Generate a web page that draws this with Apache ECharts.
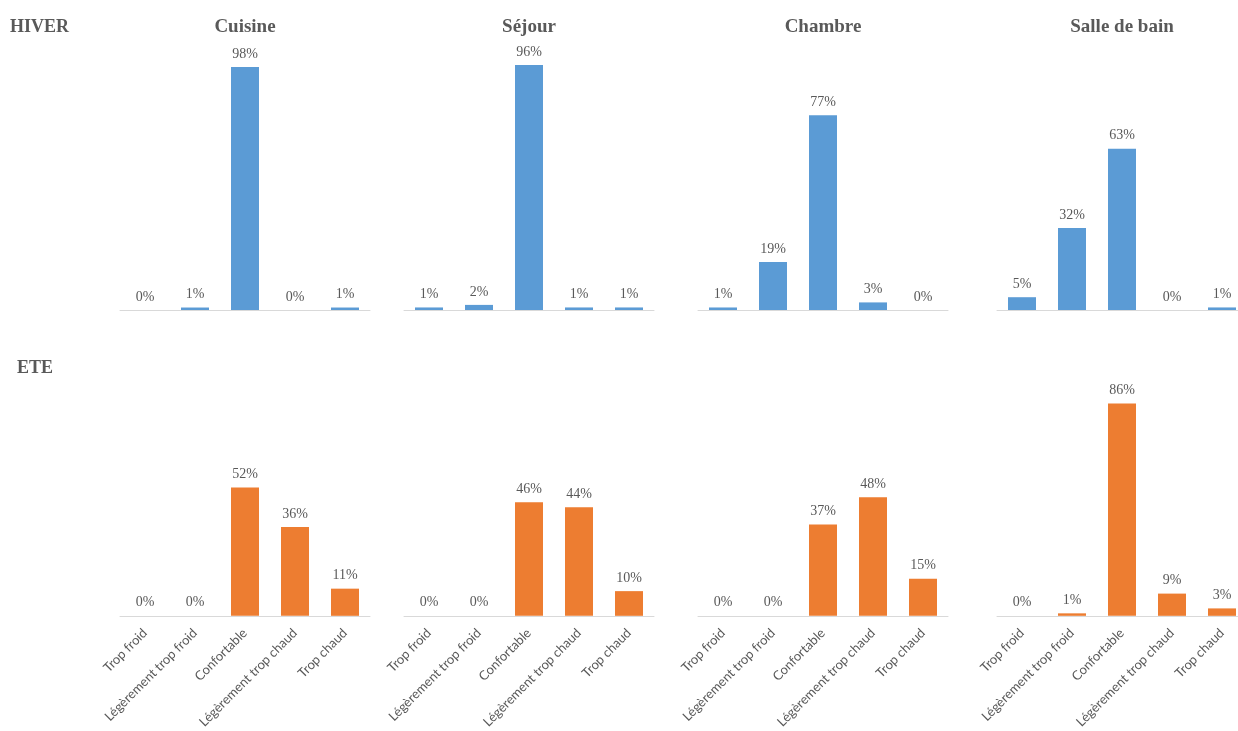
<!DOCTYPE html>
<html>
<head>
<meta charset="utf-8">
<script src="https://cdn.jsdelivr.net/npm/echarts@6/dist/echarts.min.js"></script>
<style>
  html, body { margin: 0; padding: 0; background: #ffffff; overflow: hidden; }
  /* drawing surface slightly wider than the page so the last panel keeps its full width */
  #chart { width: 1250px; height: 731px; }
</style>
</head>
<body>
<div id="chart"></div>
<script>
// Confort thermique ressenti par pièce, hiver et été (% des réponses)
const categories = ['Trop froid', 'Légèrement trop froid', 'Confortable', 'Légèrement trop chaud', 'Trop chaud'];
const rooms = ['Cuisine', 'Séjour', 'Chambre', 'Salle de bain'];
const seasons = ['HIVER', 'ETE'];

const hiverCuisine = [0, 1, 98, 0, 1];
const hiverSejour = [1, 2, 96, 1, 1];
const hiverChambre = [1, 19, 77, 3, 0];
const hiverSalleDeBain = [5, 32, 63, 0, 1];

const eteCuisine = [0, 0, 52, 36, 11];
const eteSejour = [0, 0, 46, 44, 10];
const eteChambre = [0, 0, 37, 48, 15];
const eteSalleDeBain = [0, 1, 86, 9, 3];

const hiverData = [hiverCuisine, hiverSejour, hiverChambre, hiverSalleDeBain];
const eteData = [eteCuisine, eteSejour, eteChambre, eteSalleDeBain];

// layout of the 4 x 2 panels
const panelLeft = [120, 404, 698, 997];
const panelWidth = 250;
const rowTop = [60, 369];
const rowHeight = [250, 248];
// per-panel value-axis ceiling (each small chart scaled on its own)
const hiverMax = [100.8, 98, 98.8, 97.7];
const eteMax = [100, 100, 100, 100];

const colors = ['#5b9bd5', '#ed7d31'];
const textGray = '#595959';

const grids = [], xAxes = [], yAxes = [], series = [], titles = [];

titles.push({ text: seasons[0], left: 10, top: 18, padding: 0,
  textStyle: { fontFamily: 'Liberation Serif', fontWeight: 'bold', fontSize: 18, color: textGray } });
titles.push({ text: seasons[1], left: 17, top: 359, padding: 0,
  textStyle: { fontFamily: 'Liberation Serif', fontWeight: 'bold', fontSize: 18, color: textGray } });

rooms.forEach((room, i) => {
  titles.push({
    text: room,
    left: panelLeft[i] + panelWidth / 2,
    top: 18,
    padding: 0,
    textAlign: 'center',
    textStyle: { fontFamily: 'Liberation Serif', fontWeight: 'bold', fontSize: 19, color: textGray }
  });
});

[hiverData, eteData].forEach((rowData, r) => {
  rowData.forEach((values, i) => {
    const idx = grids.length;
    grids.push({ left: panelLeft[i], width: panelWidth, top: rowTop[r], height: rowHeight[r] });
    xAxes.push({
      type: 'category',
      gridIndex: idx,
      data: categories,
      axisLine: { show: true, lineStyle: { color: '#d9d9d9', width: 1 } },
      axisTick: { show: false },
      axisLabel: {
        show: r === 1,
        interval: 0,
        rotate: 45,
        margin: 15,
        fontFamily: 'Lato',
        fontSize: 13,
        color: textGray
      }
    });
    yAxes.push({
      type: 'value',
      gridIndex: idx,
      min: 0,
      max: r === 0 ? hiverMax[i] : eteMax[i],
      show: false,
      splitLine: { show: false }
    });
    series.push({
      type: 'bar',
      xAxisIndex: idx,
      yAxisIndex: idx,
      data: values,
      barWidth: 28,
      itemStyle: { color: colors[r] },
      label: {
        show: true,
        position: 'top',
        distance: 6,
        formatter: p => p.value + '%',
        fontFamily: 'Liberation Serif',
        fontSize: 14,
        color: textGray
      },
      silent: true,
      animation: false
    });
  });
});

const chart = echarts.init(document.getElementById('chart'), null, { renderer: 'canvas' });
chart.setOption({
  backgroundColor: '#ffffff',
  animation: false,
  title: titles,
  grid: grids,
  xAxis: xAxes,
  yAxis: yAxes,
  series: series
});
</script>
</body>
</html>
